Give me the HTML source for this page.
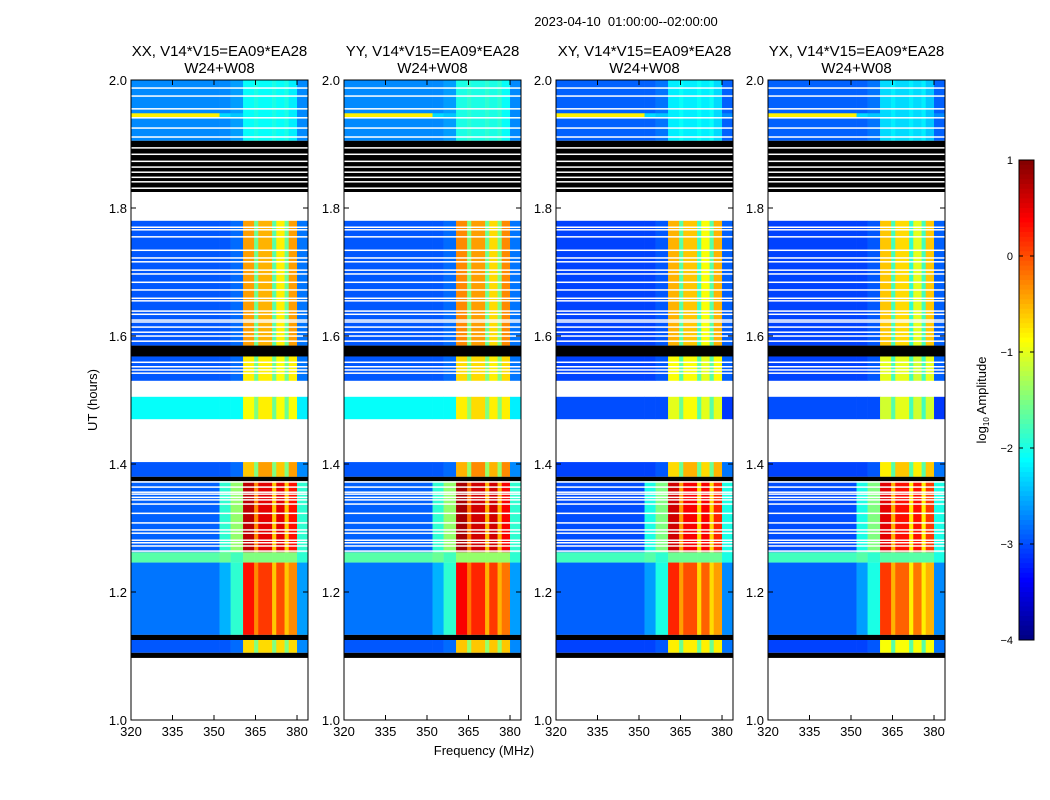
<!DOCTYPE html>
<html><head><meta charset="utf-8"><style>
body{margin:0;background:#fff;}
svg{display:block;font-family:"Liberation Sans","DejaVu Sans",sans-serif;}
</style></head><body>
<svg id="chart" width="1050" height="800" viewBox="0 0 1050 800">
<text x="626" y="26" font-size="13" text-anchor="middle" style="white-space:pre">2023-04-10  01:00:00--02:00:00</text>
<text transform="translate(97,400) rotate(-90)" font-size="13" text-anchor="middle">UT (hours)</text>
<text x="484" y="755" font-size="13" text-anchor="middle">Frequency (MHz)</text>
<g id="panels"></g>
<g id="cbar"></g>
</svg>
<script>
const panelTitles = ["XX, V14*V15=EA09*EA28","YY, V14*V15=EA09*EA28","XY, V14*V15=EA09*EA28","YX, V14*V15=EA09*EA28"];
const panelSub = "W24+W08";
const freqEdges = [320,352,356,360.5,364.5,366,371,372.5,375.5,377,380,384];
// segments: [tTop, tBottom, type, values per freq bin, per-panel background offsets]
const segments = [
 [2.0,1.905,"data",[-2.7,-2.7,-2.6,-2.1,-2.0,-2.1,-2.0,-2.1,-2.0,-2.2,-2.7],[0,0,-0.2,-0.2]],
 [1.948,1.942,"data",[-0.8,-2.3,-2.4,-2.1,-2.0,-2.1,-2.0,-2.1,-2.0,-2.2,-2.7],[0,0,0,0]],
 [1.905,1.825,"flag",null,null],
 [1.78,1.585,"data",[-2.95,-2.95,-2.85,-0.4,-1.6,-0.5,-1.7,-0.8,-1.6,-0.4,-2.8],[0,0,-0.1,-0.1]],
 [1.585,1.568,"flag",null,null],
 [1.568,1.53,"data",[-2.95,-2.95,-2.85,-0.8,-1.6,-0.8,-1.6,-0.9,-1.6,-0.8,-2.8],[0,0,-0.1,-0.1]],
 [1.505,1.47,"data",[-2.1,-2.1,-2.1,-0.9,-1.5,-0.8,-1.6,-0.9,-1.6,-0.9,-2.2],[0,0,-0.9,-0.9]],
 [1.403,1.38,"data",[-2.95,-2.95,-2.85,-0.6,-1.5,-0.4,-1.5,-0.6,-1.5,-0.4,-2.7],[0,0,-0.1,-0.1]],
 [1.38,1.373,"flag",null,null],
 [1.373,1.262,"data",[-2.9,-1.9,-1.4,0.7,-0.3,0.5,-0.6,0.5,-0.6,0.3,-1.9],[0,0,-0.1,-0.1]],
 [1.262,1.246,"data",[-1.7,-1.6,-1.8,-1.5,-1.5,-1.5,-1.5,-1.5,-1.5,-1.5,-1.9],[0,0,-0.1,-0.1]],
 [1.246,1.133,"data",[-2.8,-2.5,-1.9,0.3,-0.3,0.1,-0.6,0.0,-0.6,-0.3,-2.6],[0,0,-0.1,-0.1]],
 [1.133,1.125,"flag",null,null],
 [1.125,1.105,"data",[-2.95,-2.95,-2.85,-0.7,-1.5,-0.7,-1.5,-0.7,-1.5,-0.7,-2.7],[0,0,-0.1,-0.1]],
 [1.105,1.097,"flag",null,null]
];
const bandOffset = [0,0.1,-0.1,-0.2];
const flagLinesData = [1.9875,1.975,1.955,1.941,1.925,1.911,1.770,1.766,1.755,1.734,1.722,1.716,1.703,1.697,1.684,1.672,1.659,1.655,1.639,1.634,1.625,1.622,1.614,1.606,1.600,1.592,1.559,1.552,1.547,1.542,1.372,1.364,1.356,1.353,1.348,1.344,1.3375,1.323,1.308,1.297,1.292,1.281,1.277,1.272,1.264];
const flagLinesBlack = [1.894,1.884,1.873,1.864,1.856,1.848,1.841,1.831];
const xTicks = [320,335,350,365,380];
const yTicks = [1.0,1.2,1.4,1.6,1.8,2.0];
const cbTicks = [1,0,-1,-2,-3,-4];

const NS="http://www.w3.org/2000/svg";
const panelLeft=[131,344,556,768], pw=177, plotTop=80, plotBot=720;
const vmin=-4, vmax=1;
function xScale(p,f){return panelLeft[p]+(f-320)*2.767;}
function yScale(t){return plotTop+(2-t)*(plotBot-plotTop);}
function jet(v){let n=(v-vmin)/(vmax-vmin);n=Math.max(0,Math.min(1,n));
 const r=Math.max(0,Math.min(1,1.5-Math.abs(4*n-3))),g=Math.max(0,Math.min(1,1.5-Math.abs(4*n-2))),b=Math.max(0,Math.min(1,1.5-Math.abs(4*n-1)));
 return `rgb(${Math.round(r*255)},${Math.round(g*255)},${Math.round(b*255)})`;}
function mk(tag,attrs,parent){const e=document.createElementNS(NS,tag);for(const k in attrs)e.setAttribute(k,attrs[k]);parent.appendChild(e);return e;}
const root=document.getElementById('panels');
for(let p=0;p<4;p++){
 const g=mk('g',{},root);
 
 
 const L=panelLeft[p];
 segments.forEach(s=>{
  const y0=yScale(s[0]),y1=yScale(s[1]);
  if(s[2]==="flag"){const r=mk('rect',{x:L,y:y0,width:pw,height:y1-y0,fill:'#000'},g);
   
   return;}
  for(let i=0;i<s[3].length;i++){
   const band=(i>=3&&i<=9);
   const v=s[3][i]+(band?bandOffset[p]:s[4][p]);
   const x0=xScale(p,freqEdges[i]),x1=Math.min(xScale(p,freqEdges[i+1]),L+pw);
   const r=mk('rect',{x:x0,y:y0,width:x1-x0+0.3,height:y1-y0,fill:jet(v)},g);
   
   
  }
 });
 flagLinesData.concat(flagLinesBlack).forEach(t=>{
  const l=mk('rect',{x:L,y:yScale(t)-0.7,width:pw,height:1.5,fill:'#fff'},g);
  
  
 });
 const fr=mk('rect',{x:L,y:plotTop,width:pw,height:plotBot-plotTop,fill:'none',stroke:'#000','stroke-width':1},g);
 
 
 xTicks.forEach(f=>{const x=xScale(p,f);
  mk('line',{x1:x,x2:x,y1:plotBot,y2:plotBot-5,stroke:'#000'},g);
  mk('line',{x1:x,x2:x,y1:plotTop,y2:plotTop+5,stroke:'#000'},g);
  const t=mk('text',{x:x,y:plotBot+16,'font-size':13,'text-anchor':'middle'},g);t.textContent=f;
  
  });
 yTicks.forEach(v=>{const y=yScale(v);
  mk('line',{x1:L,x2:L+5,y1:y,y2:y,stroke:'#000'},g);
  mk('line',{x1:L+pw,x2:L+pw-5,y1:y,y2:y,stroke:'#000'},g);
  const t=mk('text',{x:L-4,y:y+5,'font-size':13,'text-anchor':'end'},g);t.textContent=v.toFixed(1);
  
  });
 const cx=L+pw/2;
 const t1=mk('text',{x:cx,y:56,'font-size':15,'text-anchor':'middle'},g);t1.textContent=panelTitles[p];
 
 
 const t2=mk('text',{x:cx,y:73,'font-size':15,'text-anchor':'middle'},g);t2.textContent=panelSub;
 
 
}
// colorbar
const cb=document.getElementById('cbar');
const cbX=1019,cbW=15,cbTop=160,cbBot=640;
function cbY(v){return cbTop+(vmax-v)/(vmax-vmin)*(cbBot-cbTop);}
for(let i=0;i<100;i++){const v0=vmax-i*(vmax-vmin)/100,v1=v0-(vmax-vmin)/100;
 const r=mk('rect',{x:cbX,y:cbY(v0),width:cbW,height:cbY(v1)-cbY(v0)+0.5,fill:jet((v0+v1)/2)},cb);
 
 }
mk('rect',{x:cbX,y:cbTop,width:cbW,height:cbBot-cbTop,fill:'none',stroke:'#000'},cb);
cbTicks.forEach(v=>{const y=cbY(v);
 mk('line',{x1:cbX,x2:cbX+4,y1:y,y2:y,stroke:'#000'},cb);
 mk('line',{x1:cbX+cbW,x2:cbX+cbW-4,y1:y,y2:y,stroke:'#000'},cb);
 const t=mk('text',{x:1013,y:y+4,'font-size':11,'text-anchor':'end'},cb);t.textContent=v<0?'\u2212'+(-v):String(v);
 
 });
const cl=mk('text',{transform:'translate(986,400) rotate(-90)','font-size':13,'text-anchor':'middle'},cb);
cl.innerHTML='log<tspan font-size="8" dy="3">10</tspan><tspan dy="-3"> Amplitude</tspan>';


</script>
</body></html>
